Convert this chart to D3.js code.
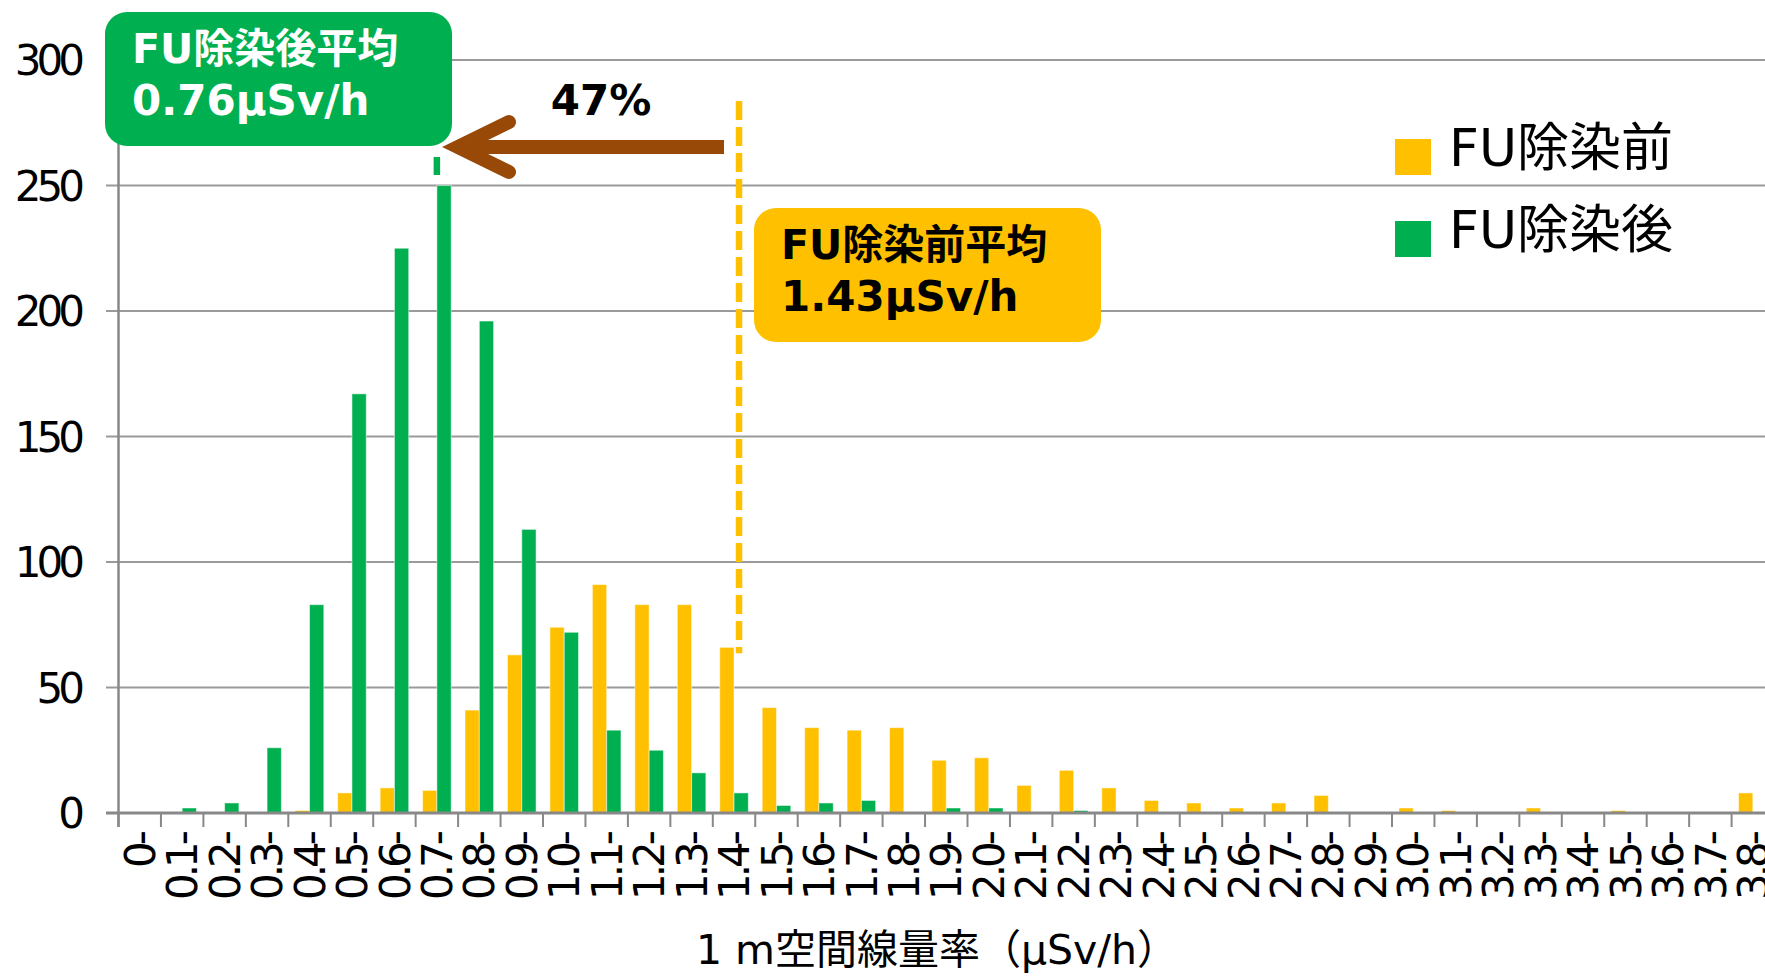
<!DOCTYPE html>
<html>
<head>
<meta charset="utf-8">
<script src="https://cdn.jsdelivr.net/npm/d3@7/dist/d3.min.js"></script>
<style>
  body { margin: 0; background: #fff; }
  text { font-family: "DejaVu Sans", "Noto Sans CJK JP", sans-serif; }
</style>
</head>
<body>
<script>
// bins of the 1m air dose rate, one per 0.1 uSv/h
var categories = ["0-", "0.1-", "0.2-", "0.3-", "0.4-", "0.5-", "0.6-", "0.7-", "0.8-", "0.9-",
  "1.0-", "1.1-", "1.2-", "1.3-", "1.4-", "1.5-", "1.6-", "1.7-", "1.8-", "1.9-",
  "2.0-", "2.1-", "2.2-", "2.3-", "2.4-", "2.5-", "2.6-", "2.7-", "2.8-", "2.9-",
  "3.0-", "3.1-", "3.2-", "3.3-", "3.4-", "3.5-", "3.6-", "3.7-", "3.8-"];

// FU除染前 (before decontamination)
var beforeValues = [0, 0, 0, 0, 1, 8, 10, 9, 41, 63,
  74, 91, 83, 83, 66, 42, 34, 33, 34, 21,
  22, 11, 17, 10, 5, 4, 2, 4, 7, 0,
  2, 1, 0, 2, 0, 1, 0, 0, 8];

// FU除染後 (after decontamination)
var afterValues = [0, 2, 4, 26, 83, 167, 225, 250, 196, 113,
  72, 33, 25, 16, 8, 3, 4, 5, 0, 2,
  2, 0, 1, 0, 0, 0, 0, 0, 0, 0,
  0, 0, 0, 0, 0, 0, 0, 0, 0];

var yTicks = [0, 50, 100, 150, 200, 250, 300];
var seriesNames = ["FU除染前", "FU除染後"];
var seriesColors = ["#FFC000", "#00B050"];

var meanBefore = 1.43, meanAfter = 0.76;
var reductionLabel = "47%";
var xTitle = "1 m空間線量率（μSv/h）";

var W = 1765, H = 977;
var x0 = 118.5, step = 42.45, baseY = 813, topY = 60;

var svg = d3.select("body").append("svg")
  .attr("width", W)
  .attr("height", H)
  .style("display", "block");

svg.append("rect").attr("width", W).attr("height", H).attr("fill", "#fff");

// Scales
var x = d3.scaleBand()
  .domain(categories)
  .range([x0, x0 + step * categories.length]);

var xs = d3.scaleBand()
  .domain([0, 1])
  .range([0, x.bandwidth()])
  .paddingOuter(0.485);

var y = d3.scaleLinear()
  .domain([0, 300])
  .range([baseY, topY]);

// Gridlines
svg.selectAll(".grid")
  .data(yTicks.filter(function (d) { return d > 0; }))
  .enter().append("line")
  .attr("x1", 106).attr("x2", W)
  .attr("y1", function (d) { return y(d); })
  .attr("y2", function (d) { return y(d); })
  .attr("stroke", "#9a9a9a")
  .attr("stroke-width", 2);

// Y tick labels
svg.selectAll(".ylab")
  .data(yTicks)
  .enter().append("text")
  .attr("x", 80)
  .attr("y", function (d) { return y(d); })
  .attr("dy", "0.36em")
  .attr("text-anchor", "end")
  .style("font-size", "42px")
  .style("letter-spacing", "-5px")
  .attr("fill", "#000")
  .text(function (d) { return d; });

// Bars
var series = [beforeValues, afterValues];
series.forEach(function (vals, si) {
  svg.selectAll(".bar" + si)
    .data(vals)
    .enter().append("rect")
    .attr("x", function (d, i) { return x(categories[i]) + xs(si); })
    .attr("width", xs.bandwidth())
    .attr("y", function (d) { return y(d); })
    .attr("height", function (d) { return baseY - y(d); })
    .attr("fill", seriesColors[si])
    .attr("stroke", "#fff")
    .attr("stroke-opacity", 0.5)
    .attr("stroke-width", 1);
});

// Axes lines
svg.append("line")
  .attr("x1", x0).attr("x2", x0)
  .attr("y1", topY).attr("y2", baseY + 14)
  .attr("stroke", "#888").attr("stroke-width", 2.5);

svg.append("line")
  .attr("x1", 106).attr("x2", W)
  .attr("y1", baseY).attr("y2", baseY)
  .attr("stroke", "#888").attr("stroke-width", 3);

svg.selectAll(".xtick")
  .data(categories)
  .enter().append("line")
  .attr("x1", function (d) { return x(d); })
  .attr("x2", function (d) { return x(d); })
  .attr("y1", baseY).attr("y2", baseY + 14)
  .attr("stroke", "#888").attr("stroke-width", 2);

// X tick labels (rotated)
svg.selectAll(".xlab")
  .data(categories)
  .enter().append("text")
  .attr("transform", function (d) {
    return "translate(" + (x(d) + x.bandwidth() / 2) + "," + 834 + ") rotate(-90)";
  })
  .attr("dy", "0.36em")
  .attr("text-anchor", "end")
  .style("font-size", "42px")
  .style("letter-spacing", "-4px")
  .attr("fill", "#000")
  .text(function (d) { return d; });

// X axis title
svg.append("text")
  .attr("x", 937)
  .attr("y", 964)
  .attr("text-anchor", "middle")
  .style("font-size", "41px")
  .attr("fill", "#000")
  .text(xTitle);

// Mean lines
function binIndex(v) { return Math.floor(v * 10 + 1e-9); }
var afterX = x(categories[binIndex(meanAfter)]) + x.bandwidth() / 2;
var beforeX = x(categories[binIndex(meanBefore)]) + x.bandwidth() / 2 + 5;

svg.append("line")
  .attr("x1", beforeX).attr("x2", beforeX)
  .attr("y1", 101).attr("y2", y(beforeValues[binIndex(meanBefore)]) + 6)
  .attr("stroke", "#FFC000")
  .attr("stroke-width", 6.5)
  .attr("stroke-dasharray", "19,7");

svg.append("line")
  .attr("x1", afterX).attr("x2", afterX)
  .attr("y1", 147).attr("y2", y(afterValues[binIndex(meanAfter)]))
  .attr("stroke", "#00B050")
  .attr("stroke-width", 6.5)
  .attr("stroke-dasharray", "0,10,18,10");

// Arrow (before mean -> after mean)
var arrowY = 147, tipX = 454, tailX = 724;
svg.append("line")
  .attr("x1", tailX).attr("x2", tipX + 8)
  .attr("y1", arrowY).attr("y2", arrowY)
  .attr("stroke", "#984807")
  .attr("stroke-width", 14);

svg.append("path")
  .attr("d", "M" + (tipX + 55) + "," + (arrowY - 25) + "L" + (tipX + 4) + "," + arrowY +
    "L" + (tipX + 55) + "," + (arrowY + 25))
  .attr("fill", "none")
  .attr("stroke", "#984807")
  .attr("stroke-width", 14)
  .attr("stroke-linecap", "round")
  .attr("stroke-linejoin", "miter");

svg.append("text")
  .attr("x", 601)
  .attr("y", 115)
  .attr("text-anchor", "middle")
  .style("font-size", "42px")
  .style("font-weight", "bold")
  .attr("fill", "#000")
  .text(reductionLabel);

// Callout boxes
function callout(bx, by, fill, color, line1, line2) {
  svg.append("rect")
    .attr("x", bx).attr("y", by)
    .attr("width", 347).attr("height", 134)
    .attr("rx", 22).attr("ry", 22)
    .attr("fill", fill);
  svg.append("text")
    .attr("x", bx + 27).attr("y", by + 51)
    .style("font-size", "41px")
    .style("font-weight", "bold")
    .attr("fill", color)
    .text(line1);
  svg.append("text")
    .attr("x", bx + 27).attr("y", by + 103)
    .style("font-size", "42px")
    .style("font-weight", "bold")
    .attr("fill", color)
    .text(line2);
}

callout(105, 12, "#00B050", "#fff", "FU除染後平均", meanAfter.toFixed(2) + "μSv/h");
callout(754, 208, "#FFC000", "#000", "FU除染前平均", meanBefore.toFixed(2) + "μSv/h");

// Legend
var legend = svg.selectAll(".legend")
  .data(seriesNames)
  .enter().append("g")
  .attr("transform", function (d, i) { return "translate(1395," + (139 + i * 82) + ")"; });

legend.append("rect")
  .attr("width", 36).attr("height", 36)
  .attr("fill", function (d, i) { return seriesColors[i]; });

legend.append("text")
  .attr("x", 54)
  .attr("y", 8)
  .attr("dy", "0.36em")
  .style("font-size", "52px")
  .attr("fill", "#000")
  .text(function (d) { return d; });
</script>
</body>
</html>
